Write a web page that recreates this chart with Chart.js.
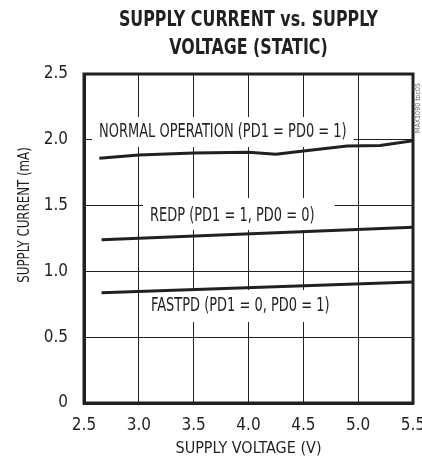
<!DOCTYPE html>
<html>
<head>
    <title>Supply current vs supply voltage</title>
    <script src="https://cdn.jsdelivr.net/npm/chart.js"></script>
    <style>
        body { margin: 0; background: #fff; }
    </style>
</head>
<body>
    <canvas id="chart" width="422" height="458"></canvas>
    <script>
        // values
        const normalV = [2.64, 3.0, 3.5, 4.0, 4.25, 4.5, 4.9, 5.2, 5.5];
        const normalI = [1.86, 1.885, 1.90, 1.905, 1.89, 1.915, 1.953, 1.957, 1.993];
        const redpV = [2.66, 5.5];
        const redpI = [1.24, 1.335];
        const fastpdV = [2.66, 5.5];
        const fastpdI = [0.838, 0.92];
        const xTickLabels = ['2.5', '3.0', '3.5', '4.0', '4.5', '5.0', '5.5'];
        const yTickLabels = ['0', '0.5', '1.0', '1.5', '2.0', '2.5'];

        const ink = '#231f20';
        const narrow = "'Liberation Sans Narrow', 'DejaVu Sans Condensed', 'Roboto Condensed', sans-serif";

        function points(xs, ys) {
            return xs.map((x, i) => ({ x: x, y: ys[i] }));
        }

        // curve labels, anchored in data units (left edge, middle)
        const notes = [
            { text: 'NORMAL OPERATION (PD1 = PD0 = 1)', x: 2.637, y: 2.059, padL: 7, padR: 7, padT: 15, padB: 15 },
            { text: 'REDP (PD1 = 1, PD0 = 0)', x: 3.102, y: 1.421, padL: 7, padR: 20, padT: 18, padB: 14 },
            { text: 'FASTPD (PD1 = 0, PD0 = 1)', x: 3.111, y: 0.737, padL: 8, padR: 5, padT: 16, padB: 16 }
        ];

        // squeezed text, the original uses a condensed face
        function squeezed(ctx, text, x, y, sx) {
            ctx.save();
            ctx.translate(x, y);
            ctx.scale(sx, 1);
            ctx.fillText(text, 0, 0);
            ctx.restore();
        }

        const decor = {
            id: 'decor',
            beforeDatasetsDraw(chart) {
                const ctx = chart.ctx;
                const xs = chart.scales.x, ys = chart.scales.y;
                const sx = 0.76;
                ctx.save();
                ctx.font = '19px ' + narrow;
                ctx.textBaseline = 'middle';
                notes.forEach(n => {
                    const px = xs.getPixelForValue(n.x);
                    const py = ys.getPixelForValue(n.y);
                    const w = ctx.measureText(n.text).width * sx;
                    ctx.fillStyle = '#fff';
                    ctx.fillRect(px - n.padL, py - n.padT, w + n.padL + n.padR, n.padT + n.padB);
                    ctx.fillStyle = ink;
                    squeezed(ctx, n.text, px, py, sx);
                });
                ctx.restore();
            },
            afterDraw(chart) {
                const ctx = chart.ctx;
                const a = chart.chartArea;
                ctx.save();
                // frame
                ctx.strokeStyle = ink;
                ctx.lineWidth = 3;
                ctx.strokeRect(a.left, a.top, a.right - a.left, a.bottom - a.top);
                // title
                const cx = (a.left + a.right) / 2;
                ctx.fillStyle = ink;
                ctx.textAlign = 'center';
                ctx.textBaseline = 'middle';
                ctx.font = 'bold 21px ' + narrow;
                squeezed(ctx, 'SUPPLY CURRENT vs. SUPPLY', cx, 21, 0.84);
                squeezed(ctx, 'VOLTAGE (STATIC)', cx, 49, 0.84);
                // axis titles
                ctx.font = '16px ' + narrow;
                ctx.fillText('SUPPLY VOLTAGE (V)', cx, 449);
                ctx.save();
                ctx.translate(25, 215);
                ctx.rotate(-Math.PI / 2);
                squeezed(ctx, 'SUPPLY CURRENT (mA)', 0, 0, 0.82);
                ctx.restore();
                // plot id
                ctx.save();
                ctx.translate(418, 108);
                ctx.rotate(-Math.PI / 2);
                ctx.font = '7px ' + narrow;
                ctx.fillStyle = '#666';
                ctx.fillText('MAX1090 toc05', 0, 0);
                ctx.restore();
                ctx.restore();
            }
        };

        const line = (data) => ({
            data: data,
            borderColor: ink,
            borderWidth: 3,
            pointRadius: 0,
            tension: 0,
            fill: false
        });

        new Chart(document.getElementById('chart'), {
            type: 'line',
            data: {
                datasets: [
                    line(points(normalV, normalI)),
                    line(points(redpV, redpI)),
                    line(points(fastpdV, fastpdI))
                ]
            },
            options: {
                responsive: false,
                animation: false,
                layout: { padding: { left: 0, right: 9, top: 74, bottom: 0 } },
                plugins: { legend: { display: false }, tooltip: { enabled: false } },
                scales: {
                    x: {
                        type: 'linear',
                        min: 2.5,
                        max: 5.5,
                        afterFit(s) { s.height = 55; s.paddingLeft = 0; s.paddingRight = 0; },
                        grid: { color: ink, lineWidth: 1, drawTicks: false },
                        border: { color: ink, width: 3 },
                        ticks: {
                            stepSize: 0.5,
                            padding: 12,
                            color: ink,
                            font: { family: narrow, size: 17 },
                            callback: (v, i) => xTickLabels[i]
                        }
                    },
                    y: {
                        min: 0,
                        max: 2.5,
                        afterFit(s) { s.width = 84; },
                        grid: { color: ink, lineWidth: 1, drawTicks: false },
                        border: { color: ink, width: 3 },
                        ticks: {
                            stepSize: 0.5,
                            padding: 16,
                            color: ink,
                            font: { family: narrow, size: 17 },
                            callback: (v, i) => yTickLabels[i]
                        }
                    }
                }
            },
            plugins: [decor]
        });
    </script>
</body>
</html>
